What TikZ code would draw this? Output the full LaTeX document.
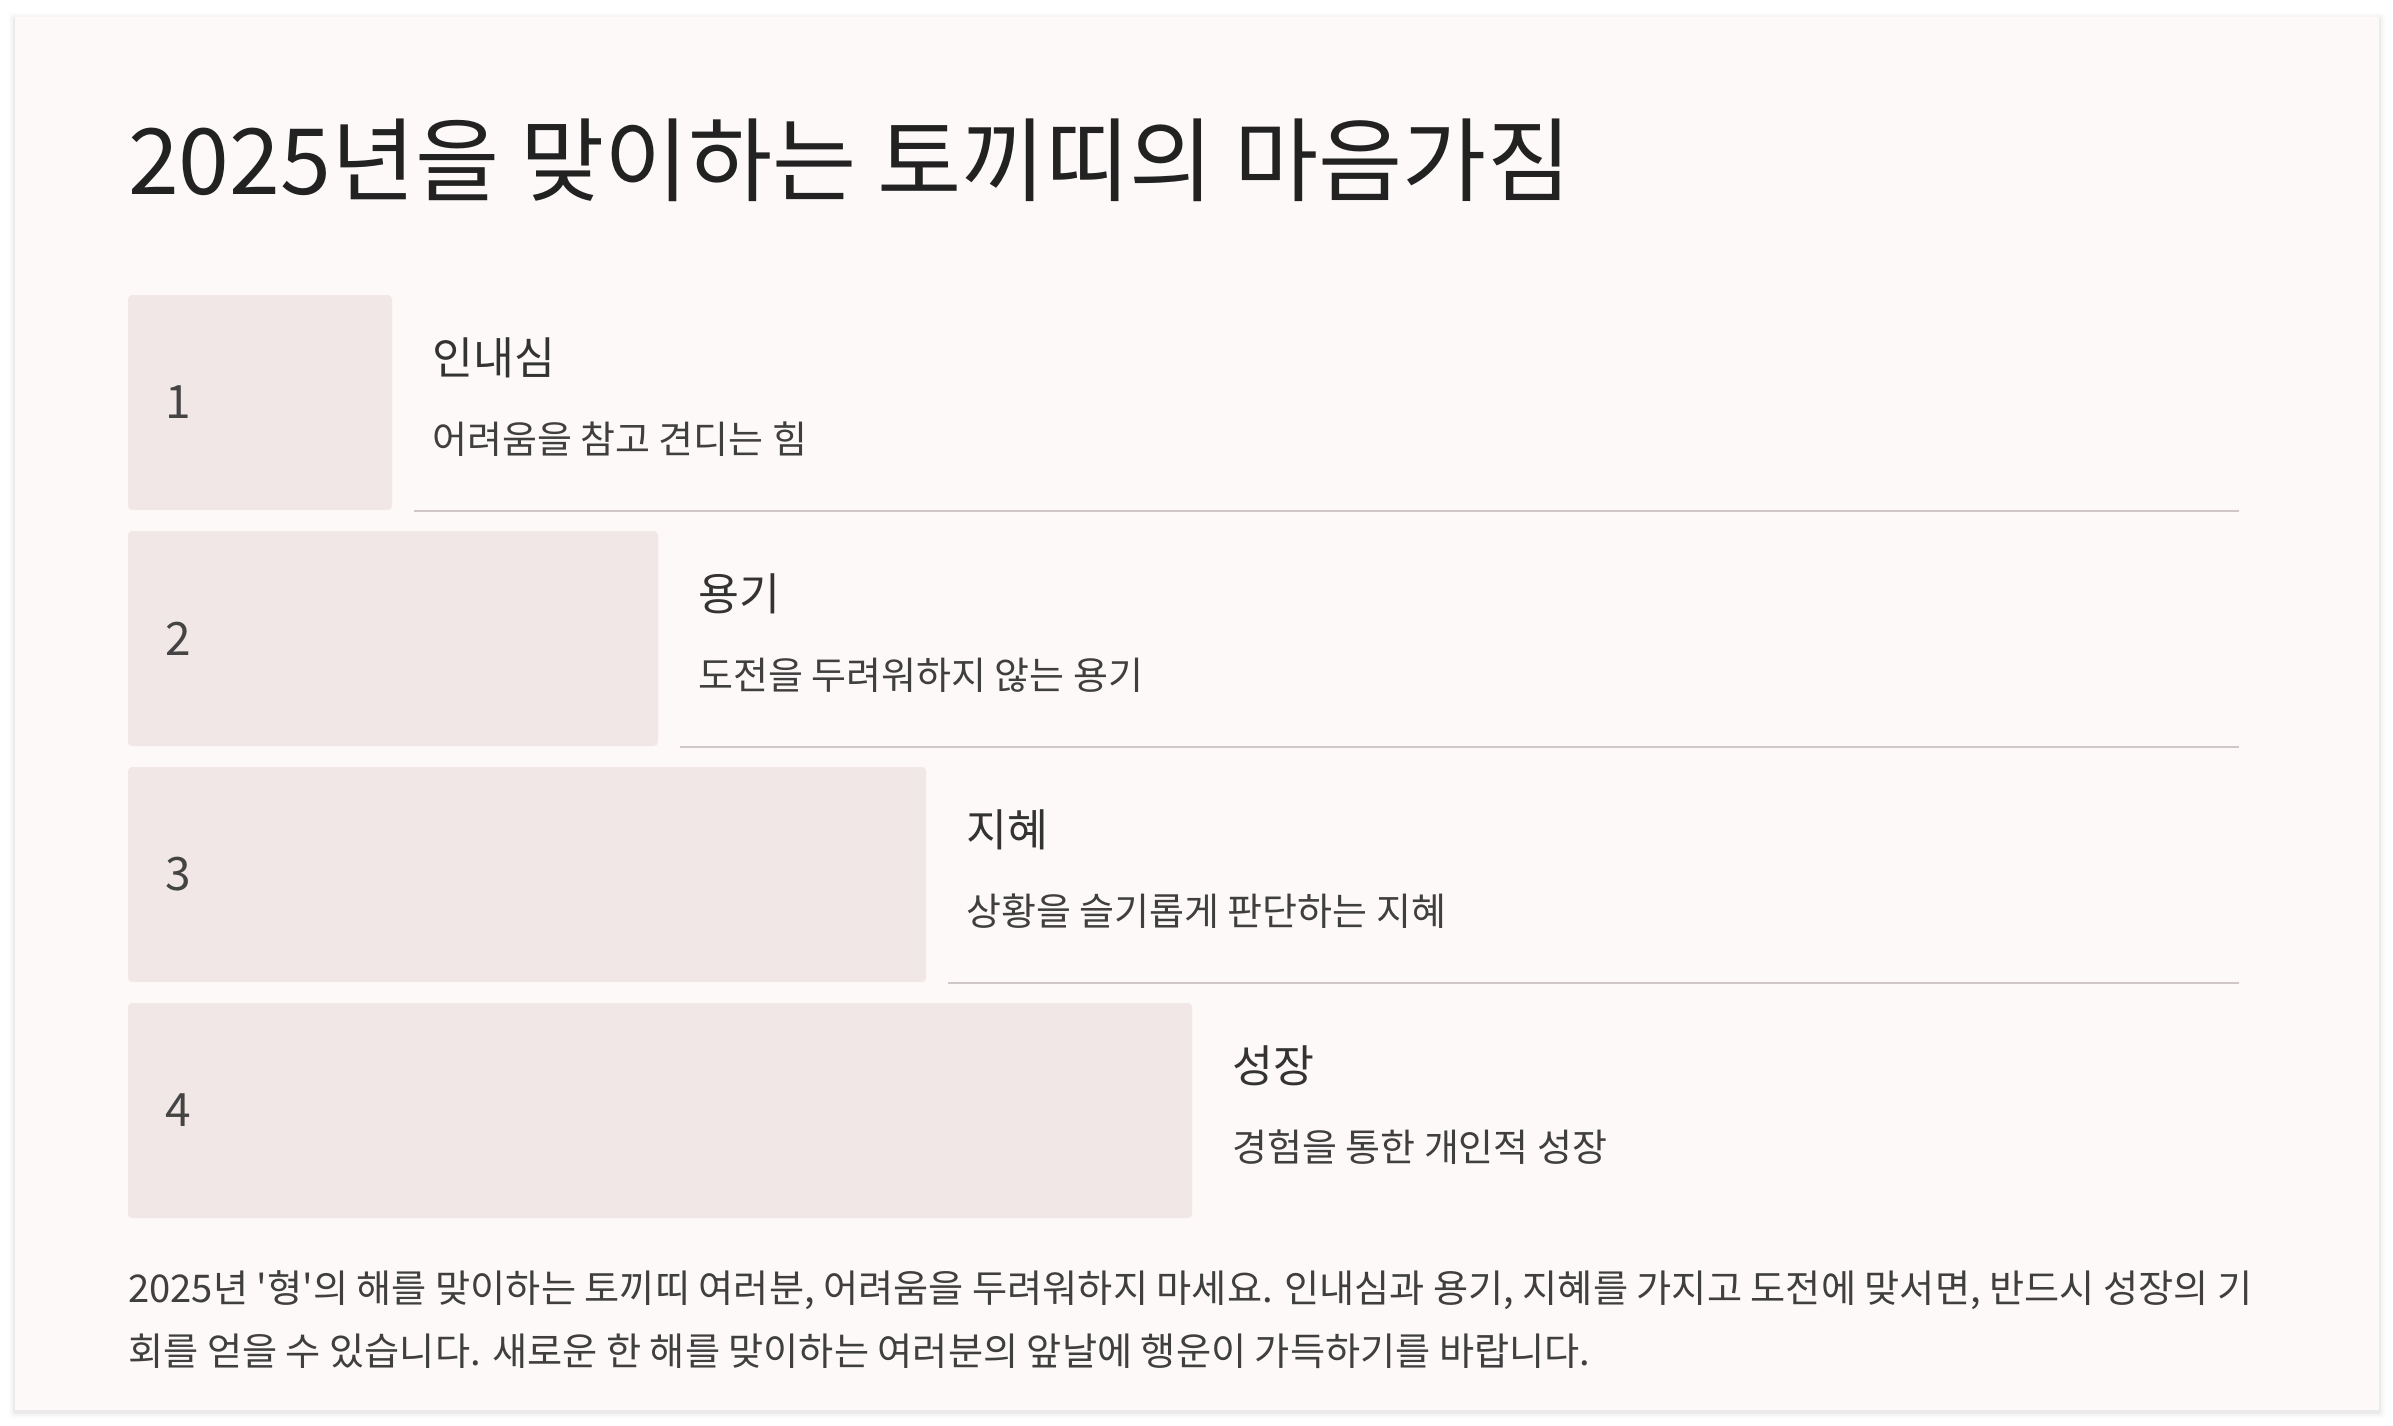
\documentclass[tikz,border=0pt]{standalone}
\usepackage{fontspec}
\setmainfont{Noto Sans CJK KR}[Ligatures=TeXOff]
\definecolor{cardbg}{HTML}{FDF9F8}
\definecolor{boxbg}{HTML}{F0E7E6}
\definecolor{rulec}{HTML}{CFC8C7}
\definecolor{titlec}{HTML}{222222}
\definecolor{labc}{HTML}{333333}
\definecolor{descc}{HTML}{3F3F3F}
\definecolor{numc}{HTML}{444444}
\begin{document}
\begin{tikzpicture}[x=1pt,y=-1pt,
  numbox/.style={fill=boxbg, rounded corners=4pt, draw=none},
  numtxt/.style={anchor=west, inner sep=0pt, text=numc, font=\fontsize{46}{56}\selectfont},
  labtxt/.style={anchor=base west, inner sep=0pt, text=labc, font=\fontsize{44.5}{50}\selectfont},
  desctxt/.style={anchor=base west, inner sep=0pt, text=descc, font=\fontsize{38}{44}\selectfont},
  sepline/.style={draw=rulec, line width=2pt},
  paratxt/.style={anchor=base west, inner sep=0pt, text=descc, font=\fontsize{38.2}{44}\selectfont}]
\useasboundingbox (0,0) rectangle (2393,1425);
\fill[white] (0,0) rectangle (2393,1425);
% shadow
\foreach \d/\o in {6/0.015,4/0.025,2/0.04}{
  \fill[black, opacity=\o, rounded corners=3pt] (15-\d,17-\d+2) rectangle (2379+\d,1410+\d+2);
}
\fill[cardbg] (15,17) rectangle (2379,1410);
% title
\node[anchor=base west, inner sep=0pt, text=titlec, font=\fontsize{91.5}{100}\selectfont] (title) at (128,194) {2025년을 맞이하는 토끼띠의 마음가짐};
% rows
\foreach \i/\w/\lab/\desc in {1/264/인내심/어려움을 참고 견디는 힘,
                               2/530/용기/도전을 두려워하지 않는 용기,
                               3/798/지혜/상황을 슬기롭게 판단하는 지혜,
                               4/1064/성장/경험을 통한 개인적 성장}{
  \pgfmathsetmacro{\top}{295+236*(\i-1)}
  \pgfmathsetmacro{\rt}{128+\w}
  \path[numbox] (128,\top) rectangle (\rt,\top+215);
  \node[numtxt] (n\i) at (165,\top+107.5) {\i};
  \node[labtxt] (l\i) at (\rt+40,\top+79) {\lab};
  \node[desctxt] (d\i) at (\rt+40,\top+158) {\desc};
  \ifnum\i<4
    \coordinate (sa\i) at (\rt+22,\top+216);
    \coordinate (sb\i) at (2239,\top+216);
    \draw[sepline] (sa\i) -- (sb\i);
  \fi
}
% paragraph
\node[paratxt] (p1) at (128,1302) {2025년 '형'의 해를 맞이하는 토끼띠 여러분, 어려움을 두려워하지 마세요. 인내심과 용기, 지혜를 가지고 도전에 맞서면, 반드시 성장의 기};
\node[paratxt] (p2) at (128,1365) {회를 얻을 수 있습니다. 새로운 한 해를 맞이하는 여러분의 앞날에 행운이 가득하기를 바랍니다.};
\end{tikzpicture}
\end{document}
